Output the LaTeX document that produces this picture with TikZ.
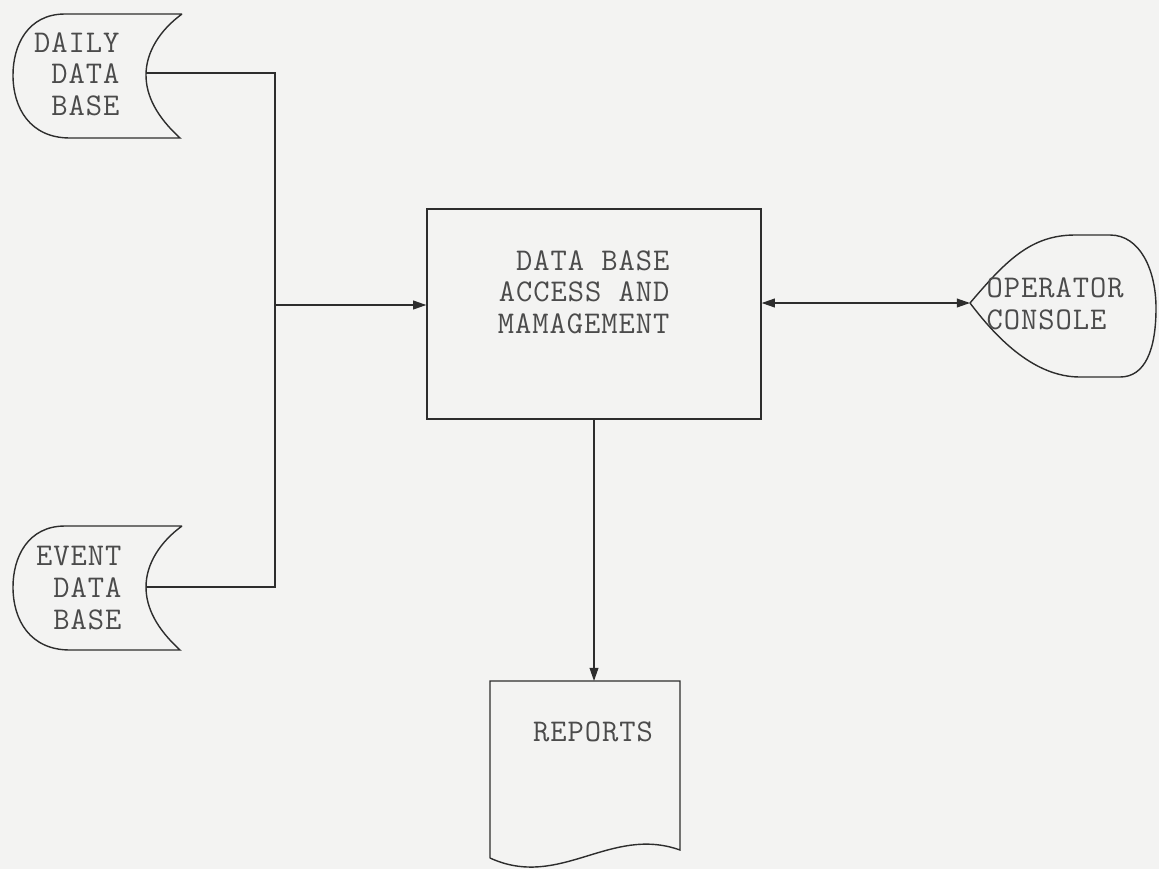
\documentclass[tikz,border=0pt]{standalone}
\usepackage{fontspec}
\setmonofont{Latin Modern Mono}[LetterSpace=3]
\usetikzlibrary{arrows.meta,positioning,calc}
\definecolor{inkgray}{RGB}{45,45,45}
\definecolor{typegray}{RGB}{75,75,75}
\definecolor{paper}{RGB}{243,243,242}

\begin{document}
\begin{tikzpicture}[x=0.02cm,y=-0.02cm,line width=0.8pt,
    lbl/.style={font=\ttfamily\fontsize{18}{18}\selectfont,text=typegray,inner sep=0pt},
    >={Triangle[length=7.5pt,width=5pt]}]
  \fill[paper] (0,0) rectangle (1159,869);
  \useasboundingbox (0,0) rectangle (1159,869);
  % stored data
  \begin{scope}[shift={(0,0)}]
    \draw[inkgray] (182,14) -- (65,14) .. controls (28,14) and (13,45) .. (13,75) .. controls (13,108) and (30,138) .. (70,138) -- (180,138) .. controls (157,117) and (146,96) .. (146,75) .. controls (146,52) and (160,30) .. (182,14);
    \coordinate (dailyin) at (146,73);
    \node[lbl,align=right,anchor=east] (daily) at (120,74) {DAILY\\DATA\\BASE};
  \end{scope}
  \begin{scope}[shift={(0,512)}]
    \draw[inkgray] (182,14) -- (65,14) .. controls (28,14) and (13,45) .. (13,75) .. controls (13,108) and (30,138) .. (70,138) -- (180,138) .. controls (157,117) and (146,96) .. (146,75) .. controls (146,52) and (160,30) .. (182,14);
    \coordinate (eventin) at (146,75);
    \node[lbl,align=right,anchor=east] (event) at (122,76) {EVENT\\DATA\\BASE};
  \end{scope}
  % processing box
  \node[draw=inkgray,minimum width=6.68cm,minimum height=4.2cm,inner sep=0pt] (dbam) at (594,314) {};
  \node[lbl,align=right,anchor=east] (dbamtxt) at (670,292) {DATA BASE\\ACCESS AND\\MAMAGEMENT};
  % display
  \draw[inkgray] (970,303) .. controls (1005,262) and (1030,235) .. (1075,235) -- (1110,235) .. controls (1140,235) and (1156,270) .. (1156,308) .. controls (1156,350) and (1145,377) .. (1120,377) -- (1080,377) .. controls (1035,377) and (998,340) .. (970,303);
  \coordinate (contip) at (970,303);
  \node[lbl,align=left,anchor=west] (console) at (986,304) {OPERATOR\\CONSOLE};
  % document
  \draw[inkgray] (490,858) -- (490,681) -- (680,681) -- (680,850) .. controls (610,825) and (560,890) .. (490,858);
  \coordinate (reptop) at (590,681);
  \node[lbl] (reports) at (593,732) {REPORTS};
  % flow lines
  \coordinate (bus) at (275,305);
  \draw[inkgray] (dailyin) -| (bus) |- (eventin);
  \draw[inkgray,->] (bus) -- (bus -| dbam.west);
  \draw[inkgray,<->] (dbam.east |- contip) -- (contip);
  \draw[inkgray,->] (dbam.south) -- (dbam.south |- reptop);
\end{tikzpicture}
\end{document}
